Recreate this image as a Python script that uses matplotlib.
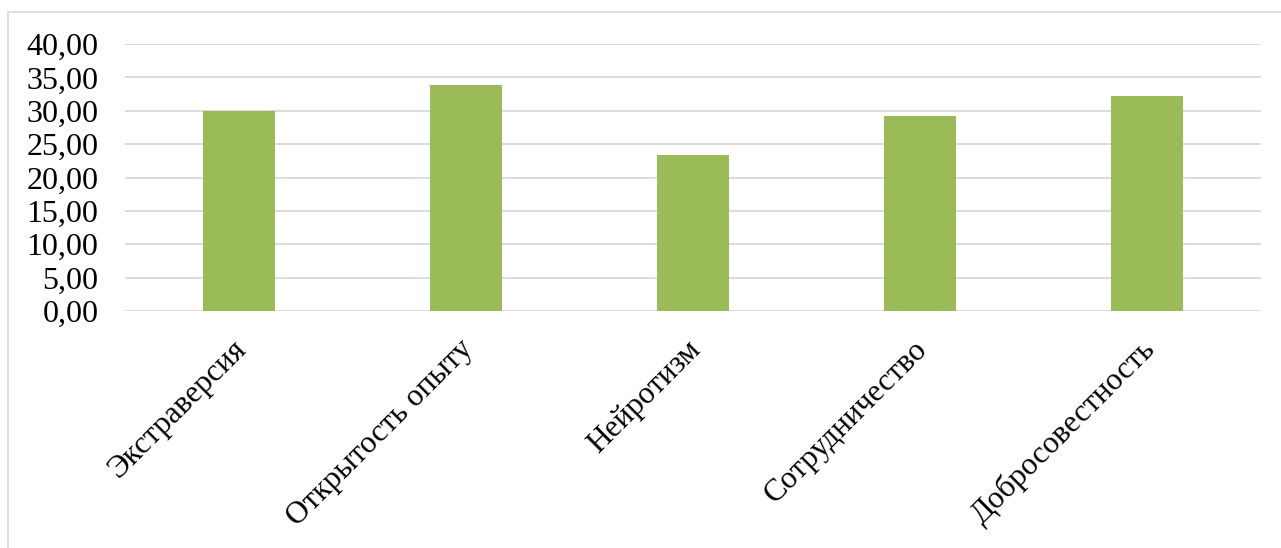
import matplotlib.pyplot as plt
from matplotlib.patches import Rectangle
from matplotlib.ticker import FuncFormatter
from matplotlib.transforms import ScaledTranslation

categories = ['Экстраверсия', 'Открытость опыту', 'Нейротизм', 'Сотрудничество', 'Добросовестность']
values = [29.9, 33.8, 23.3, 29.2, 32.2]
yticks = [0, 5, 10, 15, 20, 25, 30, 35, 40]

plt.rcParams['font.family'] = ['Liberation Serif', 'DejaVu Serif']

W, H = 1281, 548
fig = plt.figure(figsize=(W / 100, H / 100), dpi=100)
ax = fig.add_axes([125 / W, 1 - 311 / H, (1261 - 125) / W, (311 - 44) / H])

# рамка области диаграммы
fig.patches.append(Rectangle((8 / W, -0.1), 1.1, 1 - 12 / H + 0.1, transform=fig.transFigure,
                             fill=False, edgecolor='#d9d9d9', linewidth=1.2))

x = range(len(categories))
ax.bar(x, values, width=0.317, color='#9bbb59', zorder=3)

ax.set_ylim(0, 40)
ax.set_xlim(-0.5, len(categories) - 0.5)
ax.set_yticks(yticks)
ax.yaxis.set_major_formatter(FuncFormatter(lambda v, p: f'{v:.2f}'.replace('.', ',')))
ax.grid(axis='y', color='#d9d9d9', linewidth=1.3, zorder=0)
ax.tick_params(axis='y', length=0, labelsize=23, colors='black', pad=19)
ax.tick_params(axis='x', length=0, labelsize=22.5, colors='black', pad=0)
ax.set_xticks(list(x))
ax.set_xticklabels(categories, rotation=45, ha='right', va='center', rotation_mode='anchor')
shift = ScaledTranslation(3 / 100, -34 / 100, fig.dpi_scale_trans)
for lbl in ax.get_xticklabels():
    lbl.set_transform(lbl.get_transform() + shift)
for s in ax.spines.values():
    s.set_visible(False)

fig.savefig('out.png', dpi=100)
